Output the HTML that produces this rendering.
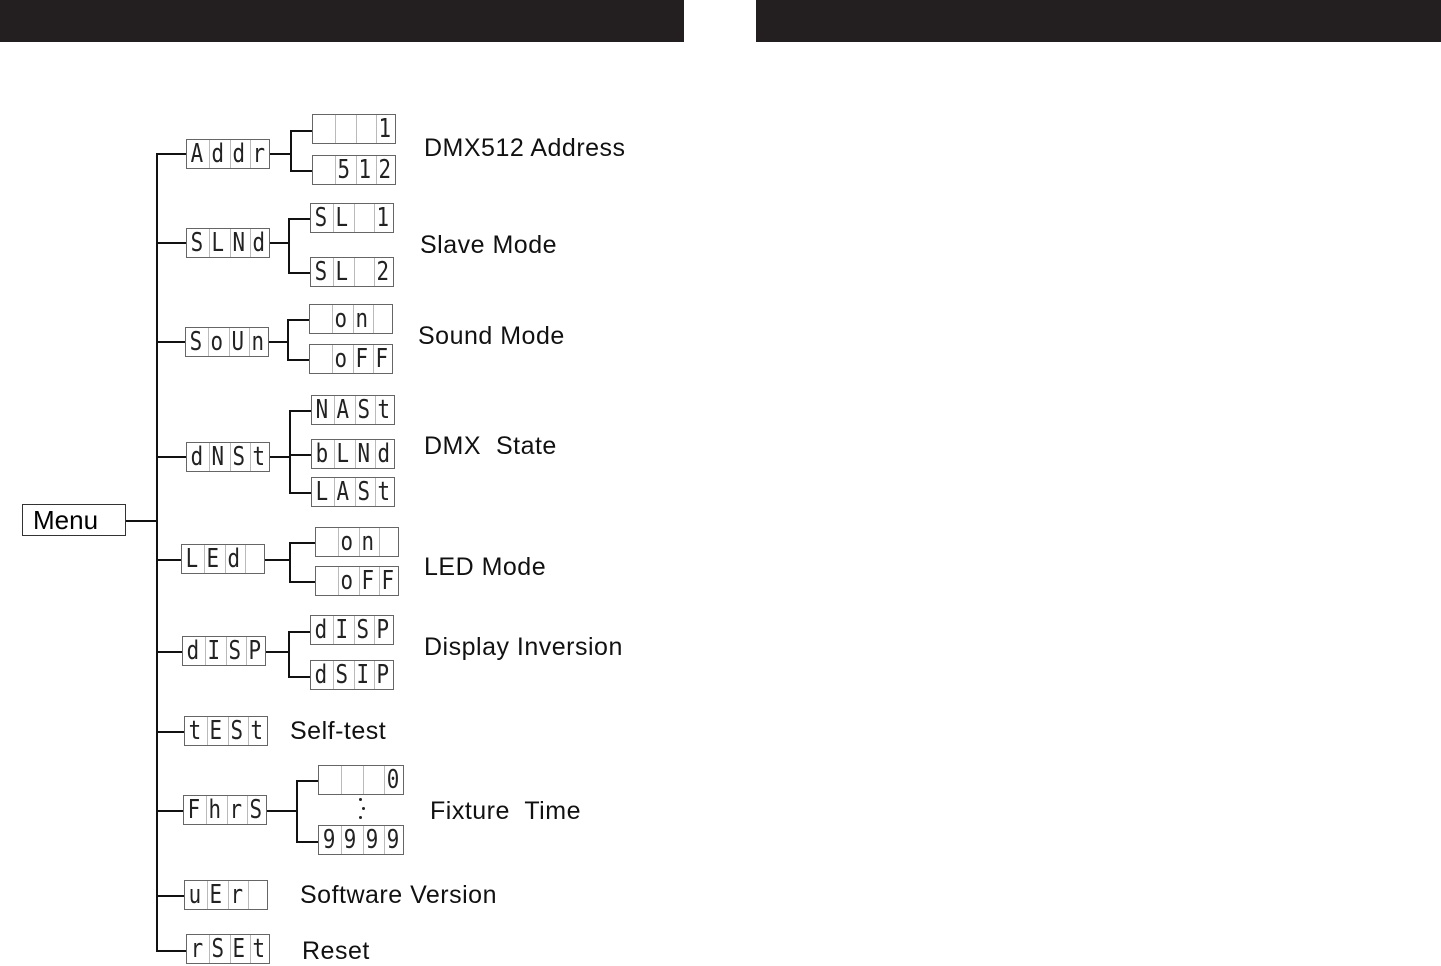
<!DOCTYPE html><html><head><meta charset="utf-8"><style>
body{margin:0;width:1441px;height:966px;background:#fff;position:relative;overflow:hidden;font-family:"Liberation Sans",sans-serif}
.a{position:absolute}
.h{position:absolute;height:1.5px;background:#111}
.v{position:absolute;width:1.5px;background:#111}
.d{position:absolute;height:28px;width:82px;border:1.5px solid #666;display:flex;box-sizing:content-box}
.d span{flex:1;border-left:1px solid #aaa;text-align:center;font-family:"DejaVu Sans Mono",monospace;font-size:26px;line-height:28px;color:#222;transform:scaleX(0.8)}
.d span:first-child{border-left:none}
.t{position:absolute;font-size:25px;color:#111;letter-spacing:0.5px;line-height:30px;white-space:pre}
</style></head><body>
<div class="a" style="left:0;top:0;width:684px;height:42px;background:#231f20"></div>
<div class="a" style="left:756px;top:0;width:685px;height:42px;background:#231f20"></div>

<div class="a" style="left:22px;top:504px;width:102px;height:29px;border:1.5px solid #333;font-size:26px;line-height:30px;padding-left:10px;box-sizing:border-box;width:104px;height:32px">Menu</div>
<div class="h" style="left:126px;top:520px;width:30px"></div>
<div class="v" style="left:156px;top:153px;height:798px"></div>

<!-- row1 Addr -->
<div class="h" style="left:156px;top:153px;width:30px"></div>
<div class="d" style="left:186px;top:139px"><span>A</span><span>d</span><span>d</span><span>r</span></div>
<div class="h" style="left:270px;top:153px;width:20px"></div>
<div class="v" style="left:290px;top:130px;height:41px"></div>
<div class="h" style="left:290px;top:130px;width:22px"></div>
<div class="h" style="left:290px;top:170px;width:22px"></div>
<div class="d" style="left:312px;top:114px"><span></span><span></span><span></span><span>1</span></div>
<div class="d" style="left:312px;top:155px"><span></span><span>5</span><span>1</span><span>2</span></div>
<div class="t" style="left:424px;top:133px">DMX512 Address</div>

<!-- row2 SLNd -->
<div class="h" style="left:156px;top:242px;width:30px"></div>
<div class="d" style="left:186px;top:228px"><span>S</span><span>L</span><span>N</span><span>d</span></div>
<div class="h" style="left:270px;top:242px;width:18px"></div>
<div class="v" style="left:288px;top:218px;height:55px"></div>
<div class="h" style="left:288px;top:218px;width:22px"></div>
<div class="h" style="left:288px;top:272px;width:22px"></div>
<div class="d" style="left:310px;top:203px"><span>S</span><span>L</span><span></span><span>1</span></div>
<div class="d" style="left:310px;top:257px"><span>S</span><span>L</span><span></span><span>2</span></div>
<div class="t" style="left:420px;top:230px">Slave Mode</div>

<!-- row3 SoUn -->
<div class="h" style="left:156px;top:341px;width:29px"></div>
<div class="d" style="left:185px;top:327px"><span>S</span><span>o</span><span>U</span><span>n</span></div>
<div class="h" style="left:269px;top:341px;width:18px"></div>
<div class="v" style="left:287px;top:319px;height:41px"></div>
<div class="h" style="left:287px;top:319px;width:22px"></div>
<div class="h" style="left:287px;top:359px;width:22px"></div>
<div class="d" style="left:309px;top:304px"><span></span><span>o</span><span>n</span><span></span></div>
<div class="d" style="left:309px;top:344px"><span></span><span>o</span><span>F</span><span>F</span></div>
<div class="t" style="left:418px;top:321px">Sound Mode</div>

<!-- row4 dNSt -->
<div class="h" style="left:156px;top:456px;width:30px"></div>
<div class="d" style="left:186px;top:442px"><span>d</span><span>N</span><span>S</span><span>t</span></div>
<div class="h" style="left:270px;top:456px;width:19px"></div>
<div class="v" style="left:289px;top:410px;height:83px"></div>
<div class="h" style="left:289px;top:410px;width:22px"></div>
<div class="h" style="left:289px;top:454px;width:22px"></div>
<div class="h" style="left:289px;top:492px;width:22px"></div>
<div class="d" style="left:311px;top:395px"><span>N</span><span>A</span><span>S</span><span>t</span></div>
<div class="d" style="left:311px;top:439px"><span>b</span><span>L</span><span>N</span><span>d</span></div>
<div class="d" style="left:311px;top:477px"><span>L</span><span>A</span><span>S</span><span>t</span></div>
<div class="t" style="left:424px;top:431px">DMX  State</div>

<!-- row5 LEd -->
<div class="h" style="left:156px;top:559px;width:25px"></div>
<div class="d" style="left:181px;top:544px"><span>L</span><span>E</span><span>d</span><span></span></div>
<div class="h" style="left:265px;top:559px;width:24px"></div>
<div class="v" style="left:289px;top:542px;height:40px"></div>
<div class="h" style="left:289px;top:542px;width:26px"></div>
<div class="h" style="left:289px;top:581px;width:26px"></div>
<div class="d" style="left:315px;top:527px"><span></span><span>o</span><span>n</span><span></span></div>
<div class="d" style="left:315px;top:566px"><span></span><span>o</span><span>F</span><span>F</span></div>
<div class="t" style="left:424px;top:552px">LED Mode</div>

<!-- row6 dISP -->
<div class="h" style="left:156px;top:651px;width:26px"></div>
<div class="d" style="left:182px;top:636px"><span>d</span><span>I</span><span>S</span><span>P</span></div>
<div class="h" style="left:266px;top:651px;width:22px"></div>
<div class="v" style="left:288px;top:631px;height:46px"></div>
<div class="h" style="left:288px;top:631px;width:22px"></div>
<div class="h" style="left:288px;top:676px;width:22px"></div>
<div class="d" style="left:310px;top:615px"><span>d</span><span>I</span><span>S</span><span>P</span></div>
<div class="d" style="left:310px;top:660px"><span>d</span><span>S</span><span>I</span><span>P</span></div>
<div class="t" style="left:424px;top:632px">Display Inversion</div>

<!-- row7 tESt -->
<div class="h" style="left:156px;top:731px;width:28px"></div>
<div class="d" style="left:184px;top:716px"><span>t</span><span>E</span><span>S</span><span>t</span></div>
<div class="t" style="left:290px;top:716px">Self-test</div>

<!-- row8 FhrS -->
<div class="h" style="left:156px;top:810px;width:27px"></div>
<div class="d" style="left:183px;top:795px"><span>F</span><span>h</span><span>r</span><span>S</span></div>
<div class="h" style="left:267px;top:810px;width:29px"></div>
<div class="v" style="left:296px;top:780px;height:62px"></div>
<div class="h" style="left:296px;top:780px;width:22px"></div>
<div class="h" style="left:296px;top:841px;width:22px"></div>
<div class="d" style="left:318px;top:765px;width:84px"><span></span><span></span><span></span><span>0</span></div>
<div class="d" style="left:318px;top:825px;width:84px"><span>9</span><span>9</span><span>9</span><span>9</span></div>
<div class="a" style="left:359px;top:798px;width:3px;height:3px;background:#222;border-radius:50%"></div>
<div class="a" style="left:362px;top:807px;width:3px;height:3px;background:#222;border-radius:50%"></div>
<div class="a" style="left:359px;top:816px;width:3px;height:3px;background:#222;border-radius:50%"></div>
<div class="t" style="left:430px;top:796px">Fixture  Time</div>

<!-- row9 uEr -->
<div class="h" style="left:156px;top:895px;width:28px"></div>
<div class="d" style="left:184px;top:880px"><span>u</span><span>E</span><span>r</span><span></span></div>
<div class="t" style="left:300px;top:880px">Software Version</div>

<!-- row10 rSEt -->
<div class="h" style="left:156px;top:950px;width:30px"></div>
<div class="d" style="left:186px;top:934px"><span>r</span><span>S</span><span>E</span><span>t</span></div>
<div class="t" style="left:302px;top:936px">Reset</div>
</body></html>
